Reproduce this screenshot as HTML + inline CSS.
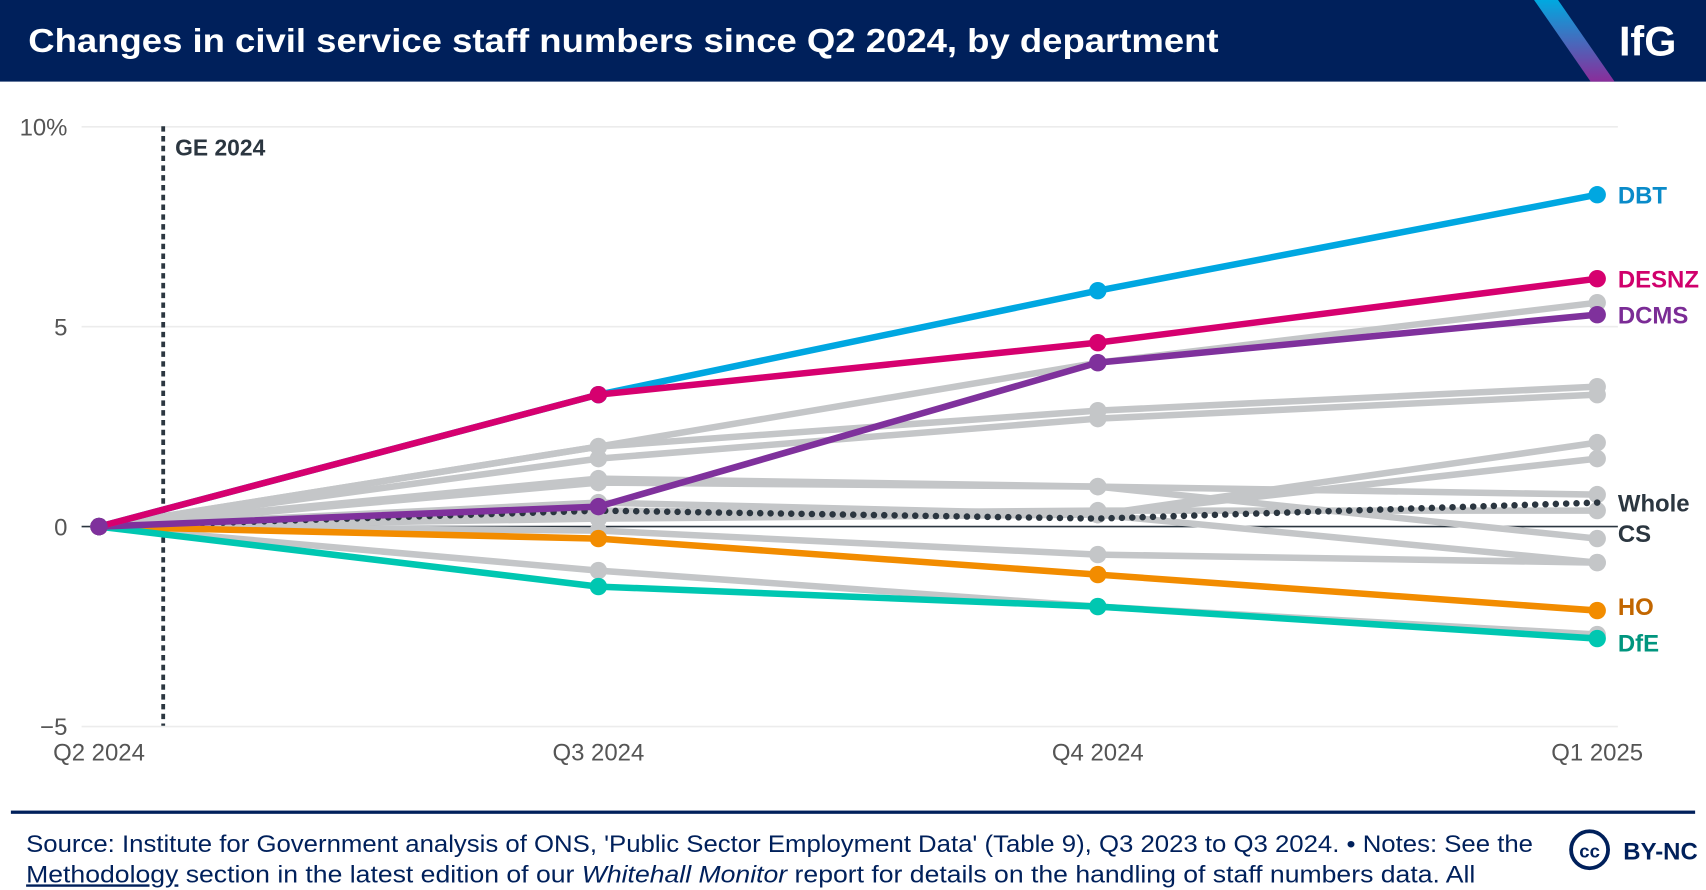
<!DOCTYPE html>
<html><head><meta charset="utf-8"><style>
html,body{margin:0;padding:0;background:#fff;width:1706px;height:890px;overflow:hidden}
svg{display:block;font-family:"Liberation Sans",sans-serif}
</style></head><body>
<svg id="chart" width="1706" height="890" viewBox="0 0 1568 818">
<defs><linearGradient id="stripe" x1="0" y1="0" x2="0" y2="1"><stop offset="0" stop-color="#00a9e0"/><stop offset="1" stop-color="#8a2d9a"/></linearGradient></defs>
<rect x="0" y="0" width="1568" height="75" fill="#00205b"/>
<polygon points="1410,0 1432,0 1484,75 1462,75" fill="url(#stripe)"/>
<text x="26" y="48" fill="#fff" font-size="31" font-weight="bold" textLength="1094" lengthAdjust="spacingAndGlyphs">Changes in civil service staff numbers since Q2 2024, by department</text>
<text x="1488" y="51" fill="#fff" font-size="38" font-weight="bold">IfG</text>
<g id="grid"></g>
<g id="series"></g>
<g id="labels"></g>
<rect x="10" y="745" width="1548" height="3" fill="#00205b"/>
<text x="24" y="783" fill="#00205b" font-size="22" textLength="1385" lengthAdjust="spacingAndGlyphs">Source: Institute for Government analysis of ONS, 'Public Sector Employment Data' (Table 9), Q3 2023 to Q3 2024. • Notes: See the</text>
<text x="24" y="811" fill="#00205b" font-size="22" textLength="1332" lengthAdjust="spacingAndGlyphs"><tspan text-decoration="underline">Methodology</tspan> section in the latest edition of our <tspan font-style="italic">Whitehall Monitor</tspan> report for details on the handling of staff numbers data. All</text>
<circle cx="1461" cy="781" r="17" fill="none" stroke="#00205b" stroke-width="3.5"/>
<text x="1461" y="788" fill="#00205b" font-size="17" font-weight="bold" text-anchor="middle">cc</text>
<text x="1492" y="790" fill="#00205b" font-size="22" font-weight="bold">BY-NC</text>
</svg>
<script>
const categories = ["Q2 2024","Q3 2024","Q4 2024","Q1 2025"];
const yTicks = [10,5,0,-5];
const yTickLabels = ["10%","5","0","−5"];
const dbt = [0,3.3,5.9,8.3];
const desnz = [0,3.3,4.6,6.2];
const dcms = [0,0.5,4.1,5.3];
const ho = [0,-0.3,-1.2,-2.1];
const dfe = [0,-1.5,-2.0,-2.8];
const wholeCS = [0,0.4,0.2,0.6];
const grey1 = [0,2.0,4.1,5.6];
const grey2 = [0,2.0,2.9,3.5];
const grey3 = [0,1.7,2.7,3.3];
const grey4 = [0,1.2,1.0,0.8];
const grey5 = [0,1.1,1.0,-0.3];
const grey6 = [0,0.6,0.3,2.1];
const grey7 = [0,0.4,0.3,1.7];
const grey8 = [0,0.3,0.4,0.4];
const grey9 = [0,-0.1,-0.7,-0.9];
const grey10 = [0,0.2,0.3,-0.9];
const grey11 = [0,-1.1,-2.0,-2.7];

const NS="http://www.w3.org/2000/svg";
const x0=91,x1=1468,yZero=484,yPer=36.75;
function xs(i){return x0+(x1-x0)*i/(categories.length-1);}
function ys(v){return yZero-v*yPer;}
function mk(tag,attrs,parent){const e=document.createElementNS(NS,tag);for(const k in attrs)e.setAttribute(k,attrs[k]);parent.appendChild(e);return e;}
const grid=document.getElementById('grid'),ser=document.getElementById('series'),lab=document.getElementById('labels');
yTicks.forEach((v,i)=>{
  const l=mk('line',{x1:75,x2:1487,y1:ys(v),y2:ys(v),stroke:v===0?'#2b3640':'#ececec','stroke-width':v===0?1.5:1.5},grid);
  
  
  const t=mk('text',{x:62,y:ys(v)+8,'text-anchor':'end','font-size':22,fill:'#555'},grid);
  t.textContent=yTickLabels[i];
  
  
});
categories.forEach((c,i)=>{
  const t=mk('text',{x:xs(i),y:699,'text-anchor':'middle','font-size':22,fill:'#555'},grid);
  t.textContent=c;
  
  
});
const ge=mk('line',{x1:150,x2:150,y1:116,y2:667,stroke:'#2b3640','stroke-width':3.5,'stroke-dasharray':'5 4'},grid);


const get=mk('text',{x:161,y:143,'font-size':21,'font-weight':'bold',fill:'#2b3640'},grid);
get.textContent='GE 2024';



function drawLine(vals,color,name,dotted){
  const pts=vals.map((v,i)=>xs(i)+','+ys(v)).join(' ');
  const pl=mk('polyline',{points:pts,fill:'none',stroke:color,'stroke-width':dotted?6:6,'stroke-linejoin':'round','stroke-linecap':'round'},ser);
  if(dotted){pl.setAttribute('stroke-dasharray','0 9.5');}
  
  
  if(!dotted){vals.forEach((v,i)=>{
    const c=mk('circle',{cx:xs(i),cy:ys(v),r:8,fill:color},ser);
    
    
  });}
}
const grey='#c4c6c8';
[grey1,grey2,grey3,grey4,grey5,grey6,grey7,grey8,grey9,grey10,grey11].forEach((g,i)=>drawLine(g,grey,'grey-dept-'+(i+1),false));
drawLine(wholeCS,'#2b3640','whole-cs',true);
drawLine(ho,'#f28c00','ho',false);
drawLine(dfe,'#00c7b1','dfe',false);
drawLine(dcms,'#7f319c','dcms',false);
drawLine(dbt,'#00a7e1','dbt',false);
drawLine(desnz,'#d6006f','desnz',false);
const c0=mk('circle',{cx:xs(0),cy:ys(0),r:8,fill:'#7f319c'},ser);



function label(txt,v,color,name,dy){
  const t=mk('text',{x:1487,y:ys(v)+8+(dy||0),'font-size':22,'font-weight':'bold',fill:color},lab);
  t.textContent=txt;
  
  
}
label('DBT',dbt[3],'#0a8bc9','dbt');
label('DESNZ',desnz[3],'#d0006c','desnz');
label('DCMS',dcms[3],'#7b2c96','dcms');
label('Whole',wholeCS[3],'#2b3640','whole-cs',0);
label('CS',wholeCS[3],'#2b3640','whole-cs-2',28);
label('HO',ho[3],'#c26600','ho',-4);
label('DfE',dfe[3],'#00957e','dfe',4);
</script>
</body></html>
